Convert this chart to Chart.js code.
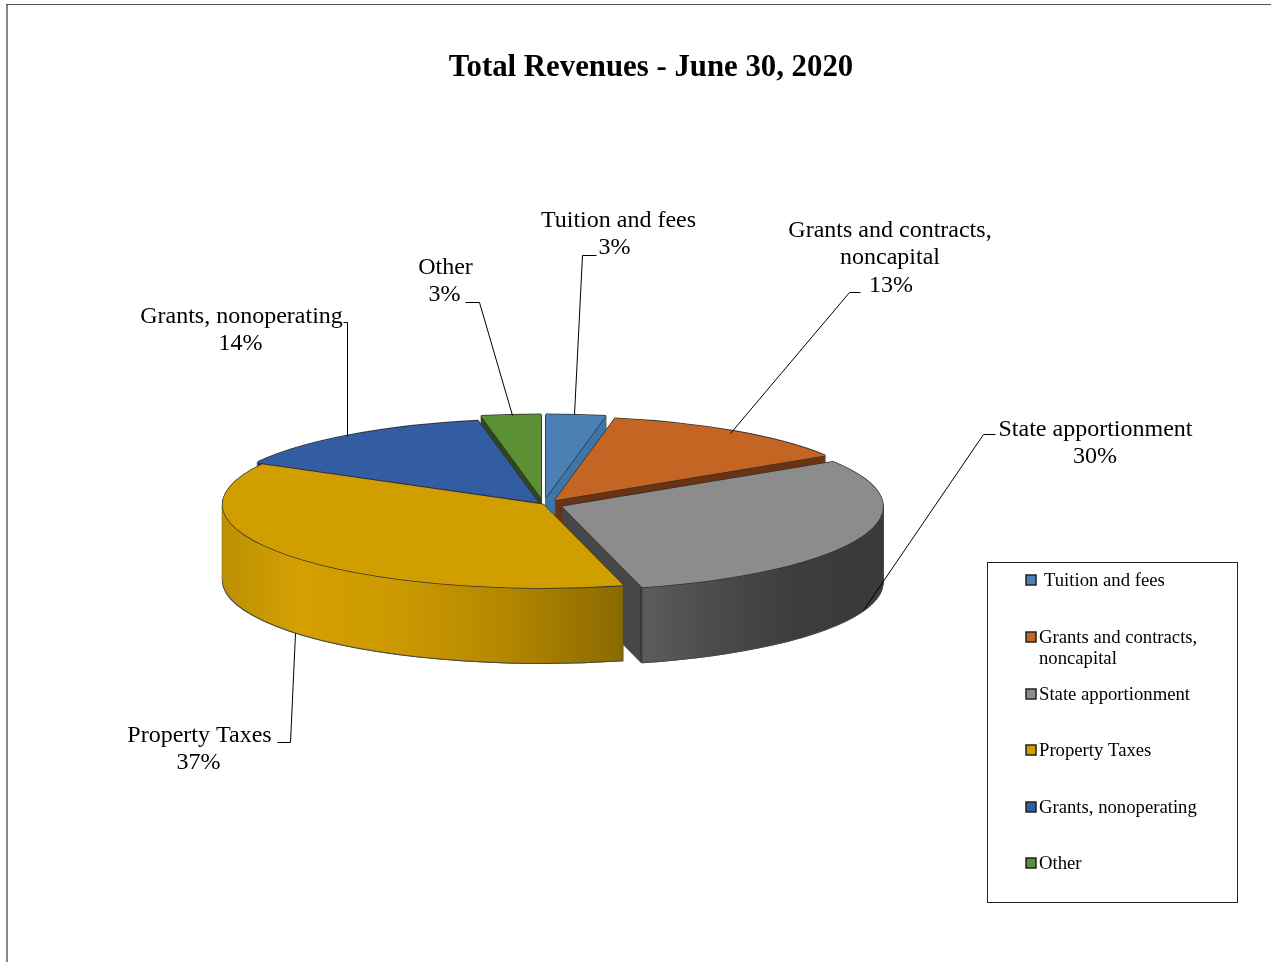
<!DOCTYPE html>
<html>
<head>
<meta charset="utf-8">
<title>Total Revenues</title>
<script src="https://cdn.jsdelivr.net/npm/chart.js@4"></script>
<style>
  html, body { margin: 0; padding: 0; background: #fff; overflow: hidden; }
  canvas { display: block; }
</style>
</head>
<body>
<canvas id="revenue-chart" width="1271" height="962"></canvas>
<script>
// Revenue shares, in percent
const categories = [
    'Tuition and fees',
    ['Grants and contracts,', 'noncapital'],
    'State apportionment',
    'Property Taxes',
    'Grants, nonoperating',
    'Other'
];
const shares = [3, 13, 30, 37, 14, 3];
const chartTitle = 'Total Revenues - June 30, 2020';

const faceColors = ['#4a80b4', '#c46524', '#8c8c8c', '#d19e00', '#335da3', '#5b9035'];
// How far each slice is pulled out of the pie
const explode = [26, 20, 20, 0, 9, 26];
// Side wall shading, [screen x, colour]
const wallStops = [
    [[540, '#3f76a8'], [610, '#3f76a8']],
    [[550, '#6b3312'], [830, '#6b3312']],
    [[560, '#474747'], [640, '#474747'], [641, '#2e2e2e'], [643, '#5c5c5c'], [720, '#4a4a4a'], [800, '#3c3c3c'], [884, '#3a3a3a']],
    [[222, '#bd9003'], [300, '#d4a002'], [400, '#cb9900'], [500, '#b58800'], [625, '#8a6900']],
    [[250, '#1b2f55'], [540, '#1b2f55']],
    [[480, '#2c481c'], [545, '#2c481c']]
];

const pie = { x: 543.5, y: 504.5, radius: 321, squash: 0.26, depth: 75 };

// Label blocks: centre x, centre y of the first line, leader polyline
const labelLayout = [
    { x: 618.5, y: 220.5, pctX: 614.5, line: [[596, 255], [582, 255], [574, 414]] },
    { x: 890, y: 230.5, pctX: 891, line: [[860, 292], [849, 292], [730, 433]] },
    { x: 1095.5, y: 429.5, pctX: 1095, line: [[995, 434], [983, 434], [863, 610]] },
    { x: 199.5, y: 735.5, pctX: 198.5, line: [[277, 742], [290, 742], [295, 633]] },
    { x: 241.5, y: 316.5, pctX: 240.5, line: [[343, 322], [347, 322], [347, 436]] },
    { x: 445.5, y: 267.5, pctX: 444.5, line: [[465, 302], [479, 302], [512, 415]] }
];
const legendRows = [581, 638, 695, 751, 808, 864];
const serif = '"Liberation Serif", "Times New Roman", serif';

// Draws one arc element squashed into an ellipse, shifted by dx/dy on screen
function paintArc(ctx, arc, fill, dx, dy) {
    const saved = arc.options;
    arc.options = { ...saved, backgroundColor: fill, borderWidth: 0, offset: 0 };
    ctx.save();
    ctx.translate(pie.x + dx, pie.y + dy);
    ctx.scale(1, pie.squash);
    ctx.translate(-arc.x, -arc.y);
    arc.draw(ctx);
    ctx.restore();
    arc.options = saved;
}

const pie3d = {
    id: 'pie3d',
    beforeDraw(chart) {
        const ctx = chart.ctx;
        // outer frame, its right and bottom sides run off the page
        ctx.fillStyle = '#858585';
        ctx.fillRect(6, 4, 2, chart.height);
        ctx.fillStyle = '#555';
        ctx.fillRect(6, 4, chart.width, 1);
    },
    beforeDatasetsDraw(chart) {
        const ctx = chart.ctx;
        const arcs = chart.getDatasetMeta(0).data;

        const slices = arcs.map((arc, i) => {
            const mid = (arc.startAngle + arc.endAngle) / 2;
            const dx = Math.cos(mid) * explode[i];
            const dy = Math.sin(mid) * explode[i] * pie.squash;
            const tx = pie.x + dx - arc.x;
            const wall = ctx.createLinearGradient(222 - tx, 0, 884 - tx, 0);
            wallStops[i].forEach(([x, color]) => {
                wall.addColorStop(Math.min(1, Math.max(0, (x - 222) / 662)), color);
            });
            return { arc, dx, dy, wall, face: faceColors[i] };
        });

        // dark silhouette first, so only its rim survives the fills below
        for (let h = pie.depth + 1; h > 0; h--) {
            slices.forEach(s => {
                paintArc(ctx, s.arc, '#4a4a4a', s.dx - 0.7, s.dy + h);
                paintArc(ctx, s.arc, '#4a4a4a', s.dx + 0.7, s.dy + h);
            });
        }
        // the solid is stacked from the bottom layer up to the top face
        for (let h = pie.depth; h > 0; h--) {
            slices.forEach(s => paintArc(ctx, s.arc, s.wall, s.dx, s.dy + h));
        }
        slices.forEach(s => {
            [[-0.7, 0], [0.7, 0], [0, -0.8], [0, 0.8]].forEach(([ox, oy]) => {
                paintArc(ctx, s.arc, '#333', s.dx + ox, s.dy + oy);
            });
        });
        slices.forEach(s => paintArc(ctx, s.arc, s.face, s.dx, s.dy));
        return false;
    },
    afterDraw(chart) {
        const ctx = chart.ctx;
        ctx.save();

        // leader lines
        ctx.strokeStyle = '#000';
        ctx.lineWidth = 1;
        labelLayout.forEach(l => {
            ctx.beginPath();
            l.line.forEach(([x, y], i) => (i ? ctx.lineTo(x + 0.5, y + 0.5) : ctx.moveTo(x + 0.5, y + 0.5)));
            ctx.stroke();
        });

        // data labels
        ctx.fillStyle = '#000';
        ctx.font = '24px ' + serif;
        ctx.textAlign = 'center';
        ctx.textBaseline = 'middle';
        categories.forEach((name, i) => {
            const lines = [].concat(name);
            const l = labelLayout[i];
            lines.forEach((text, n) => ctx.fillText(text, l.x, l.y + n * 27.5));
            ctx.fillText(shares[i] + '%', l.pctX, l.y + lines.length * 27.5);
        });

        // legend
        ctx.strokeStyle = '#222';
        ctx.strokeRect(987.5, 562.5, 250, 340);
        ctx.font = '18.7px ' + serif;
        ctx.textAlign = 'left';
        categories.forEach((name, i) => {
            const y = legendRows[i];
            ctx.fillStyle = faceColors[i];
            ctx.fillRect(1026, y - 6, 10, 10);
            ctx.strokeStyle = '#222';
            ctx.lineWidth = 1.5;
            ctx.strokeRect(1026, y - 6, 10, 10);
            ctx.fillStyle = '#000';
            [].concat(name).forEach((text, n) => {
                ctx.fillText(text, i === 0 ? 1044 : 1039, y + n * 21);
            });
        });
        ctx.restore();
    }
};

new Chart(document.getElementById('revenue-chart'), {
    type: 'pie',
    data: {
        labels: categories,
        datasets: [{
            data: shares,
            backgroundColor: faceColors,
            borderWidth: 0,
            radius: pie.radius
        }]
    },
    options: {
        responsive: false,
        animation: false,
        layout: { padding: { left: 31 } },
        plugins: {
            legend: { display: false },
            tooltip: { enabled: false },
            title: {
                display: true,
                text: chartTitle,
                color: '#000',
                font: { family: serif, size: 30.8, weight: 'bold' },
                padding: { top: 50, bottom: 10 }
            }
        }
    },
    plugins: [pie3d]
});
</script>
</body>
</html>
